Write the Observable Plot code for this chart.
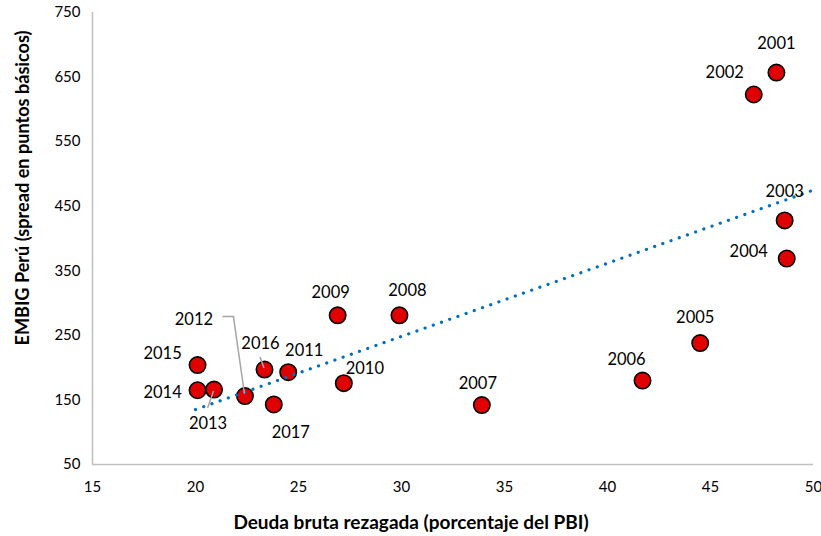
<!DOCTYPE html>
<html>
<head>
<meta charset="utf-8">
<script src="https://cdn.jsdelivr.net/npm/d3@7"></script>
<script src="https://cdn.jsdelivr.net/npm/@observablehq/plot@0.6"></script>
<style>
  html, body { margin: 0; padding: 0; background: #ffffff; }
  #chart { width: 821px; height: 536px; }
</style>
</head>
<body>
<div id="chart"></div>
<script>
// ---- data ----
const years = ["2001","2002","2003","2004","2005","2006","2007","2008","2009","2010","2011","2012","2013","2014","2015","2016","2017"];
const deuda = [48.2, 47.1, 48.6, 48.7, 44.5, 41.7, 33.9, 29.9, 26.9, 27.2, 24.5, 22.4, 20.9, 20.1, 20.1, 23.35, 23.8];
const embig = [657, 623, 428, 369, 238, 180, 142, 281, 281, 176, 193, 156, 166, 165, 204, 197, 143];
// trend line (Excel linear trend, forward-extended to 50)
const trendX = [20, 50];
const trendY = [135, 475];
const xTicks = [15, 20, 25, 30, 35, 40, 45, 50];
const yTicks = [50, 150, 250, 350, 450, 550, 650, 750];
const xTitle = "Deuda bruta rezagada (porcentaje del PBI)";
const yTitle = "EMBIG Perú (spread en puntos básicos)";

// ---- layout (label offsets in px relative to each point) ----
const labelOffset = {
  "2001": [0, -29], "2002": [-29, -22], "2003": [0, -29], "2004": [-38, -7],
  "2005": [-5, -25], "2006": [-16, -21], "2007": [-4, -21], "2008": [8, -25],
  "2009": [-7, -23], "2010": [21, -14], "2011": [16, -21], "2012": [-51, -76],
  "2013": [-6, 34], "2014": [-35, 2], "2015": [-35, -11], "2016": [-4, -26],
  "2017": [17, 28]
};
const leaders = {
  "2012": [[-22, -79], [-11, -79], [0, -2]],
  "2013": [[0, 2], [-6, 19]],
  "2016": [[-4, -12], [0, -1]]
};

const points = years.map((y, i) => ({year: y, x: deuda[i], y: embig[i]}));
const trend = trendX.map((x, i) => ({x, y: trendY[i]}));

const FONT = "Lato, 'Open Sans', sans-serif";

const labelMarks = points.map(p => Plot.text([p], {
  x: "x", y: "y", text: "year",
  dx: labelOffset[p.year][0], dy: labelOffset[p.year][1],
  fontSize: 16.5, fill: "#000", textAnchor: "middle"
}));

const plot = Plot.plot({
  width: 821,
  height: 536,
  marginLeft: 92,
  marginRight: 8,
  marginTop: 12,
  marginBottom: 72,
  style: {fontFamily: FONT, fontSize: "15px", color: "#000", background: "#fff", overflow: "visible"},
  x: {domain: [15, 50], ticks: xTicks, tickSize: 0, tickPadding: 17, label: null},
  y: {domain: [50, 750], ticks: yTicks, tickSize: 0, tickPadding: 12, label: null},
  marks: [
    Plot.ruleX([15], {stroke: "#bfbfbf", strokeWidth: 1.5}),
    Plot.ruleY([50], {stroke: "#bfbfbf", strokeWidth: 1.5}),
    Plot.dot(points, {x: "x", y: "y", r: 8.2, fill: "#e00000", stroke: "#000", strokeWidth: 1.6}),
    Plot.line(trend, {x: "x", y: "y", stroke: "#0070c0", strokeWidth: 3.2, strokeLinecap: "round", strokeDasharray: "0.1 8.6"}),
    ...labelMarks
  ]
});

document.getElementById("chart").appendChild(plot);

const svg = d3.select(plot);

// axis titles, fitted to the widths seen in the reference
function title(text, cx, cy, rotate, targetLen) {
  const t = svg.append("text")
    .attr("transform", `translate(${cx},${cy}) rotate(${rotate})`)
    .attr("text-anchor", "middle")
    .attr("dominant-baseline", "central")
    .attr("font-family", FONT)
    .attr("font-weight", "bold")
    .attr("font-size", 17)
    .attr("fill", "#000")
    .text(text);
  const len = t.node().getComputedTextLength();
  if (len > 0) t.attr("font-size", Math.min(19, 17 * targetLen / len));
}
title(xTitle, 411, 521, 0, 358);
title(yTitle, 22, 188, -90, 315);

// leader lines drawn through the plot's own scales
const sx = plot.scale("x"), sy = plot.scale("y");
points.forEach(p => {
  const L = leaders[p.year];
  if (!L) return;
  const cx = sx.apply(p.x), cy = sy.apply(p.y);
  svg.append("polyline")
    .attr("points", L.map(([dx, dy]) => `${cx + dx},${cy + dy}`).join(" "))
    .attr("fill", "none")
    .attr("stroke", "#a6a6a6")
    .attr("stroke-width", 1.5);
});
</script>
</body>
</html>
